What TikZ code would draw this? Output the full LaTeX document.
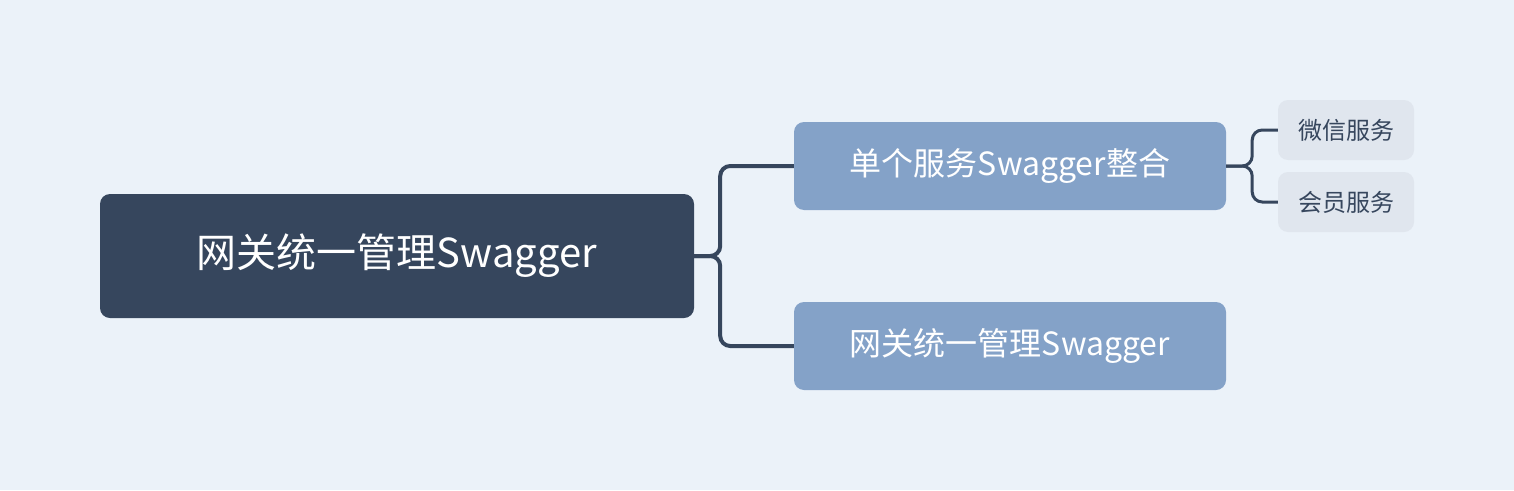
\documentclass[tikz,border=0pt]{standalone}
\usepackage{fontspec}
\setmainfont{Noto Sans CJK SC}
\definecolor{bg}{HTML}{EBF2F9}
\definecolor{dark}{HTML}{36465D}
\definecolor{mid}{HTML}{84A2C8}
\definecolor{light}{HTML}{E0E6EE}
\begin{document}
\begin{tikzpicture}[x=1pt,y=-1pt,
  rootbox/.style={fill=dark,rounded corners=10pt,text=white,minimum width=594pt,minimum height=124pt,font=\fontsize{40}{48}\selectfont},
  midbox/.style={fill=mid,rounded corners=10pt,text=white,minimum width=432pt,minimum height=88pt,font=\fontsize{32}{38}\selectfont},
  leafbox/.style={fill=light,rounded corners=10pt,text=dark,minimum width=136pt,minimum height=60pt,font=\fontsize{24}{29}\selectfont},
  conn/.style={draw=dark,line width=4pt,rounded corners=10pt}]
\fill[bg] (0,0) rectangle (1514,490);
\node[rootbox] (r) at (397,256) {网关统一管理Swagger};
\node[midbox] (a) at (1010,166) {单个服务Swagger整合};
\node[midbox] (b) at (1010,346) {网关统一管理Swagger};
\node[leafbox] (l1) at (1346,130) {微信服务};
\node[leafbox] (l2) at (1346,202) {会员服务};
\draw[conn] (r.east) -- ++(26,0) |- (a.west);
\draw[conn] (r.east) -- ++(26,0) |- (b.west);
\draw[conn,line width=3pt] (a.east) -- ++(26,0) |- (l1.west);
\draw[conn,line width=3pt] (a.east) -- ++(26,0) |- (l2.west);
\end{tikzpicture}
\end{document}
